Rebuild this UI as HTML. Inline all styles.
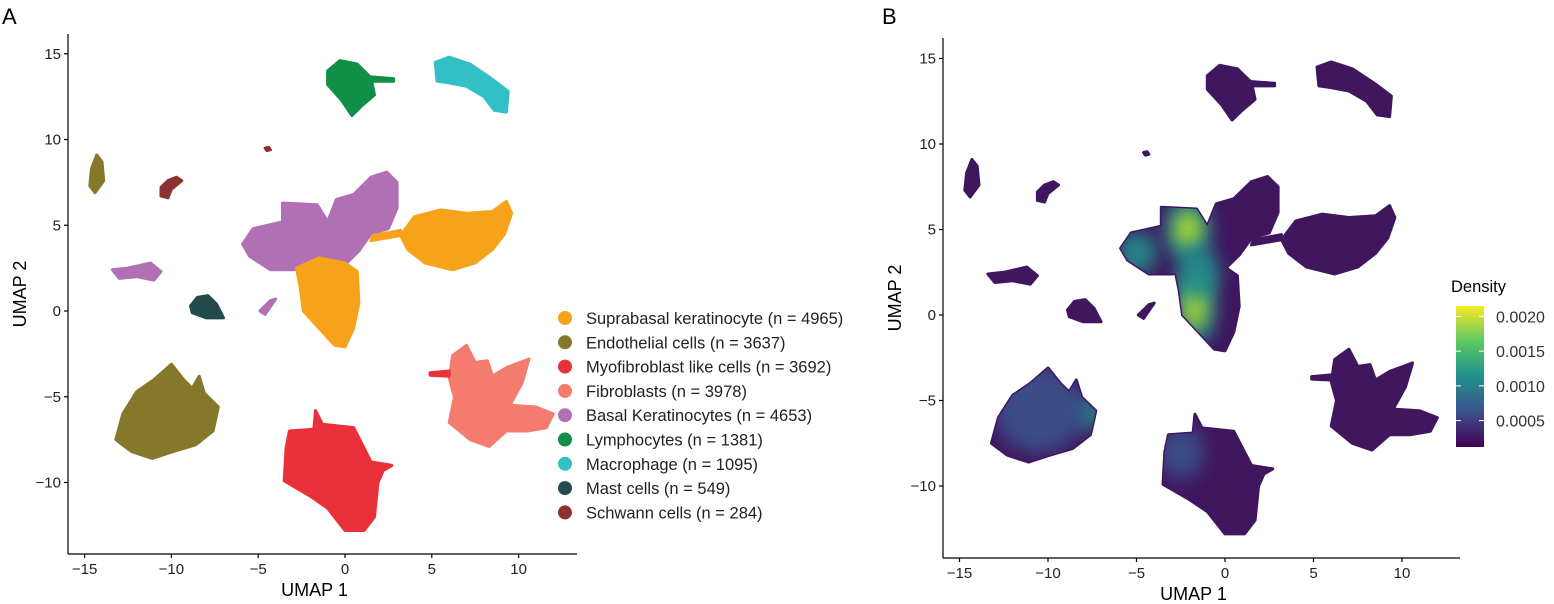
<!DOCTYPE html>
<html><head><meta charset="utf-8">
<style>
html,body{margin:0;padding:0;background:#fff;}
svg{display:block;font-family:"Liberation Sans",Arial,sans-serif;}
</style></head>
<body>
<svg id="fig" width="1554" height="604" viewBox="0 0 1554 604">
<defs>
  <linearGradient id="viridis" x1="0" y1="1" x2="0" y2="0">
    <stop offset="0" stop-color="#440154"/>
    <stop offset="0.25" stop-color="#3b528b"/>
    <stop offset="0.5" stop-color="#21908d"/>
    <stop offset="0.75" stop-color="#5dc963"/>
    <stop offset="1" stop-color="#fde725"/>
  </linearGradient>
  <filter id="blur8" filterUnits="userSpaceOnUse" x="880" y="0" width="674" height="604"><feGaussianBlur stdDeviation="9"/></filter>
  <clipPath id="clipB"></clipPath>
</defs>
<text x="2" y="24" font-size="22">A</text>
<text x="882" y="24" font-size="22">B</text>
<g id="panelA"></g>
<g id="panelB"></g>
</svg>
<script>
// cluster names, counts, colours
const clusterNames = ["Suprabasal keratinocyte","Endothelial cells","Myofibroblast like cells","Fibroblasts","Basal Keratinocytes","Lymphocytes"," Macrophage","Mast cells","Schwann cells"];
const clusterCounts = [4965,3637,3692,3978,4653,1381,1095,549,284];
const clusterColors = ["#f7a21b","#85782b","#e8313a","#f47c6f","#b170b4","#0e9146","#33bfc6","#234b4c","#8c3232"];
const xTicks = [-15,-10,-5,0,5,10];
const yTicks = [-10,-5,0,5,10,15];
const densityTicks = [0.0005,0.0010,0.0015,0.0020];
// cluster outlines in UMAP coordinates: [clusterIndex, [[x,y],...]]
const shapes = [
 [5, [[-1,14],[-0.3,14.6],[0.7,14.4],[1.5,13.6],[1.7,12.6],[1,12],[0.4,11.4],[-0.2,12.3],[-1,13.2]]],
 [5, [[1.5,13.65],[2.8,13.55],[2.8,13.4],[1.5,13.4]]],
 [6, [[5.2,14.5],[6,14.8],[7.2,14.4],[8.5,13.5],[9.4,12.8],[9.3,11.6],[8.6,11.7],[8,12.5],[7,13.1],[6,13.3],[5.3,13.4]]],
 [1, [[-14.6,8.3],[-14.3,9.1],[-14,8.7],[-13.9,7.6],[-14.4,6.9],[-14.7,7.3]]],
 [1, [[-13.2,-7.5],[-12.8,-6],[-12,-4.7],[-11,-4],[-10,-3.1],[-9.3,-4],[-8.8,-4.5],[-8.4,-3.8],[-8.1,-4.8],[-7.3,-5.6],[-7.6,-7],[-8.6,-7.8],[-9.9,-8.2],[-11.1,-8.6],[-12.3,-8.2]]],
 [8, [[-10.6,7.2],[-10.2,7.6],[-9.7,7.8],[-9.4,7.6],[-10,7.1],[-10.2,6.6],[-10.6,6.7]]],
 [8, [[-4.6,9.5],[-4.4,9.55],[-4.3,9.4],[-4.5,9.35]]],
 [4, [[-5.9,3.9],[-5.3,4.8],[-3.6,5.2],[-3.6,6.3],[-1.6,6.2],[-1,5.2],[-0.5,6.5],[0.5,6.8],[1.5,7.8],[2.4,8.1],[3,7.5],[3,6],[2.5,4.8],[1.5,4.5],[0.8,3.5],[-0.2,2.5],[-1.5,2.7],[-3,2.4],[-4.3,2.4],[-5.5,3.2]]],
 [4, [[-13.4,2.4],[-12.5,2.5],[-11.2,2.8],[-10.6,2.3],[-11,1.8],[-12,2],[-13,1.9]]],
 [4, [[-4.9,0],[-4.3,0.6],[-4,0.7],[-4.6,-0.2]]],
 [0, [[-2.8,2.5],[-1.5,3.1],[0,2.8],[0.7,2.3],[0.8,0.5],[0.5,-1],[0,-2.1],[-0.6,-2],[-1.5,-1],[-2.4,0],[-2.6,1.5]]],
 [0, [[3.2,4.4],[4,5.5],[5.5,5.9],[7,5.7],[8.5,5.8],[9.3,6.4],[9.6,5.7],[9.2,4.5],[8.5,3.6],[7.5,2.8],[6.2,2.4],[4.6,2.8],[3.6,3.6]]],
 [0, [[1.5,4.1],[3.2,4.4],[3.2,4.7],[1.6,4.4]]],
 [7, [[-8.9,0.3],[-8.5,0.8],[-7.9,0.9],[-7.4,0.4],[-7,-0.4],[-8,-0.4],[-8.8,-0.1]]],
 [3, [[6.2,-2.6],[7,-2],[7.5,-3],[8.2,-2.9],[8.5,-3.8],[9.3,-3.3],[10.6,-2.8],[10.2,-4.2],[9.5,-5.5],[11,-5.6],[12,-6],[11.6,-6.8],[10.5,-7],[9.3,-7],[8.3,-7.9],[7.2,-7.5],[6,-6.5],[6.3,-5],[6,-3.9]]],
 [2, [[4.9,-3.6],[6,-3.5],[6,-3.8],[4.9,-3.75]]],
 [2, [[-3.2,-7],[-1.8,-6.9],[-1.7,-5.8],[-1.3,-6.6],[0.5,-6.8],[1.5,-8.8],[2.7,-9],[2.2,-9.3],[1.9,-10],[1.7,-12],[1.1,-12.8],[0,-12.8],[-1,-11.5],[-2,-10.8],[-3.5,-9.9],[-3.4,-8]]]
];
// density hotspots [x, y, rx, ry, level(0-1)]
const hotspots = [[-2.1,5.0,1.0,1.5,1.0],[-1.7,0.5,0.9,1.8,1.0],[-1.5,2.5,0.9,1.2,0.6],[-5,3.6,0.9,1,0.55],[-7.7,-5.7,0.7,0.8,0.55],[-10.5,-5.5,2,2,0.25],[-2.5,-8,1,1.2,0.2]];

const NS="http://www.w3.org/2000/svg";
function mk(tag,attrs,parent){const e=document.createElementNS(NS,tag);for(const k in attrs)e.setAttribute(k,attrs[k]);parent.appendChild(e);return e;}

function drawPanel(g, ox, x0, xs, y0, ys, axLeft, axBottom, axRight, axTop, mode){
  const X=v=>x0+v*xs, Y=v=>y0-v*ys;
  const pts=p=>p.map(q=>X(q[0]).toFixed(1)+","+Y(q[1]).toFixed(1)).join(" ");
  const dg=mk("g",{},g);
  
  
  shapes.forEach((s,i)=>{
    const col = mode==='A'? clusterColors[s[0]] : '#40175f';
    const p=mk("polygon",{points:pts(s[1]),fill:col,stroke:col,"stroke-width":3,"stroke-linejoin":"round"},dg);
    
    
  });
  if(mode==='B'){
    const cp=document.getElementById('clipB');
    shapes.forEach(s=>mk("polygon",{points:pts(s[1])},cp));
    const hg=mk("g",{"clip-path":"url(#clipB)"},dg);
    hotspots.forEach(h=>{
      const lv=h[4];
      const e1=mk("ellipse",{cx:X(h[0]),cy:Y(h[1]),rx:h[2]*xs*1.3,ry:h[3]*ys*1.3,fill:lv>0.5?'#21908d':'#3b528b',opacity:0.9,filter:"url(#blur8)"},hg);
      
      
      if(lv>0.9){
        const e2=mk("ellipse",{cx:X(h[0]),cy:Y(h[1]),rx:h[2]*xs*0.7,ry:h[3]*ys*0.7,fill:'#b5de2b',filter:"url(#blur8)"},hg);
        
        
      }
    });
  }
  const ax=mk("g",{stroke:"#000","stroke-width":1.2},g);
  
  
  mk("line",{x1:axLeft,y1:axTop,x2:axLeft,y2:axBottom},ax);
  mk("line",{x1:axLeft,y1:axBottom,x2:axRight,y2:axBottom},ax);
  xTicks.forEach(t=>{
    mk("line",{x1:X(t),y1:axBottom,x2:X(t),y2:axBottom+4},ax);
    const tx=mk("text",{x:X(t),y:axBottom+20,"font-size":15,"text-anchor":"middle",fill:"#222"},g);
    tx.textContent=(t<0?'\u2212'+(-t):t);
    
    
  });
  yTicks.forEach(t=>{
    mk("line",{x1:axLeft-4,y1:Y(t),x2:axLeft,y2:Y(t)},ax);
    const tx=mk("text",{x:axLeft-7,y:Y(t)+5,"font-size":15,"text-anchor":"end",fill:"#222"},g);
    tx.textContent=(t<0?'\u2212'+(-t):t);
    
    
  });
  const xt=mk("text",{x:(axLeft+axRight)/2-8,y:axBottom+42,"font-size":18,"text-anchor":"middle"},g);
  xt.textContent="UMAP 1";
  
  
  const yx=axLeft-42, yy=(axTop+axBottom)/2;
  const yt=mk("text",{x:yx,y:yy,"font-size":18,"text-anchor":"middle",transform:`rotate(-90 ${yx} ${yy})`},g);
  yt.textContent="UMAP 2";
  
  
}

drawPanel(document.getElementById('panelA'),0,345,17.36,311,17.15,68,554,577,34,'A');
drawPanel(document.getElementById('panelB'),0,1225,17.7,315,17.1,943,558,1460,38,'B');

const leg=mk("g",{},document.getElementById('panelA'));


clusterNames.forEach((n,i)=>{
  const y=318+i*24.3;
  const e=mk("g",{},leg);
  
  
  mk("circle",{cx:565,cy:y,r:7,fill:clusterColors[i]},e);
  const t=mk("text",{x:586,y:y+6,"font-size":16.5,fill:"#222"},e);
  t.textContent=n+" (n = "+clusterCounts[i]+")";
});

const pb=document.getElementById('panelB');
const cb=mk("g",{},pb);


const dt=mk("text",{x:1451,y:292,"font-size":16.5},cb);
dt.textContent="Density";
const cbTop=306,cbBot=447,cbMin=0.00012,cbMax=0.00215;
mk("rect",{x:1456,y:cbTop,width:28,height:cbBot-cbTop,fill:"url(#viridis)"},cb);
const CY=v=>cbBot-(v-cbMin)/(cbMax-cbMin)*(cbBot-cbTop);
densityTicks.forEach(v=>{
  mk("line",{x1:1456,x2:1461,y1:CY(v),y2:CY(v),stroke:"#fff","stroke-width":1},cb);
  mk("line",{x1:1479,x2:1484,y1:CY(v),y2:CY(v),stroke:"#fff","stroke-width":1},cb);
  const t=mk("text",{x:1496,y:CY(v)+6,"font-size":16,fill:"#333"},cb);
  t.textContent=v.toFixed(4);
  
  
});
</script>
</body></html>
